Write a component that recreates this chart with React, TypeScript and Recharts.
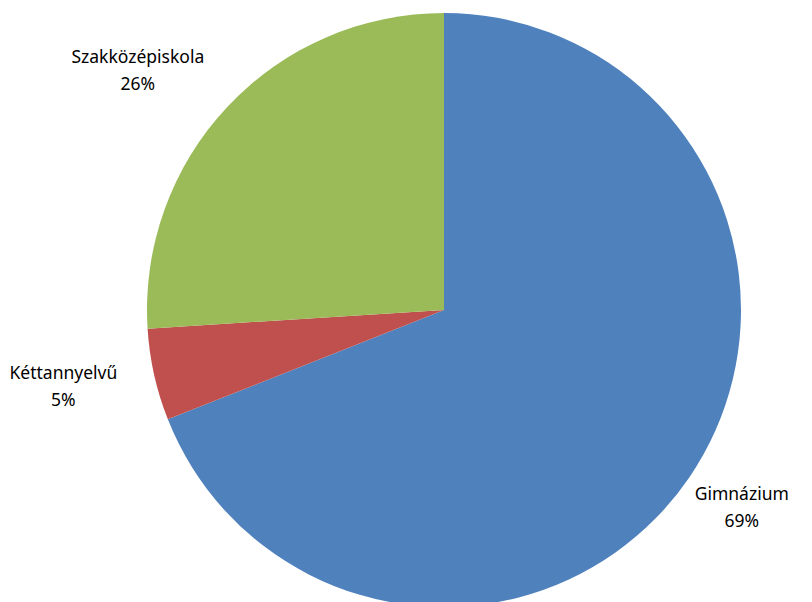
import { PieChart, Pie, Cell } from "recharts";

const categories = ["Gimnázium", "Kéttannyelvű", "Szakközépiskola"];
const shares = [69, 5, 26];
const colors = ["#4F81BD", "#C0504D", "#9BBB59"];

const data = categories.map((name, i) => ({ name, value: shares[i] }));

const RADIAN = Math.PI / 180;

// Excel-like outside labels: name on top, percent below
const renderLabel = (props: any) => {
    const { cx, cy, midAngle, outerRadius, name, percent } = props;
    const rx = outerRadius + 53 + (name.length - 8) * 10;
    const ry = outerRadius + 53;
    const x = cx + rx * Math.cos(-midAngle * RADIAN);
    const y = cy + ry * Math.sin(-midAngle * RADIAN);
    return (
        <text x={x} y={y} textAnchor="middle" fill="#000" fontSize={17.5} fontFamily="Noto Sans, sans-serif">
            <tspan x={x} dy={-7}>{name}</tspan>
            <tspan x={x} dy={27}>{`${Math.round(percent * 100)}%`}</tspan>
        </text>
    );
};

export default function App() {
    return (
        <div style={{ position: "absolute", left: 0, top: 0, width: 812, height: 602, background: "#fff" }}>
            <PieChart width={812} height={602} margin={{ top: 0, right: 0, bottom: 0, left: 0 }}>
                <Pie
                    data={data}
                    dataKey="value"
                    nameKey="name"
                    cx={444}
                    cy={310}
                    outerRadius={297}
                    startAngle={90}
                    endAngle={-270}
                    stroke="none"
                    label={renderLabel}
                    labelLine={false}
                    isAnimationActive={false}
                >
                    {data.map((d, i) => (
                        <Cell key={d.name} fill={colors[i]} />
                    ))}
                </Pie>
            </PieChart>
        </div>
    );
}
